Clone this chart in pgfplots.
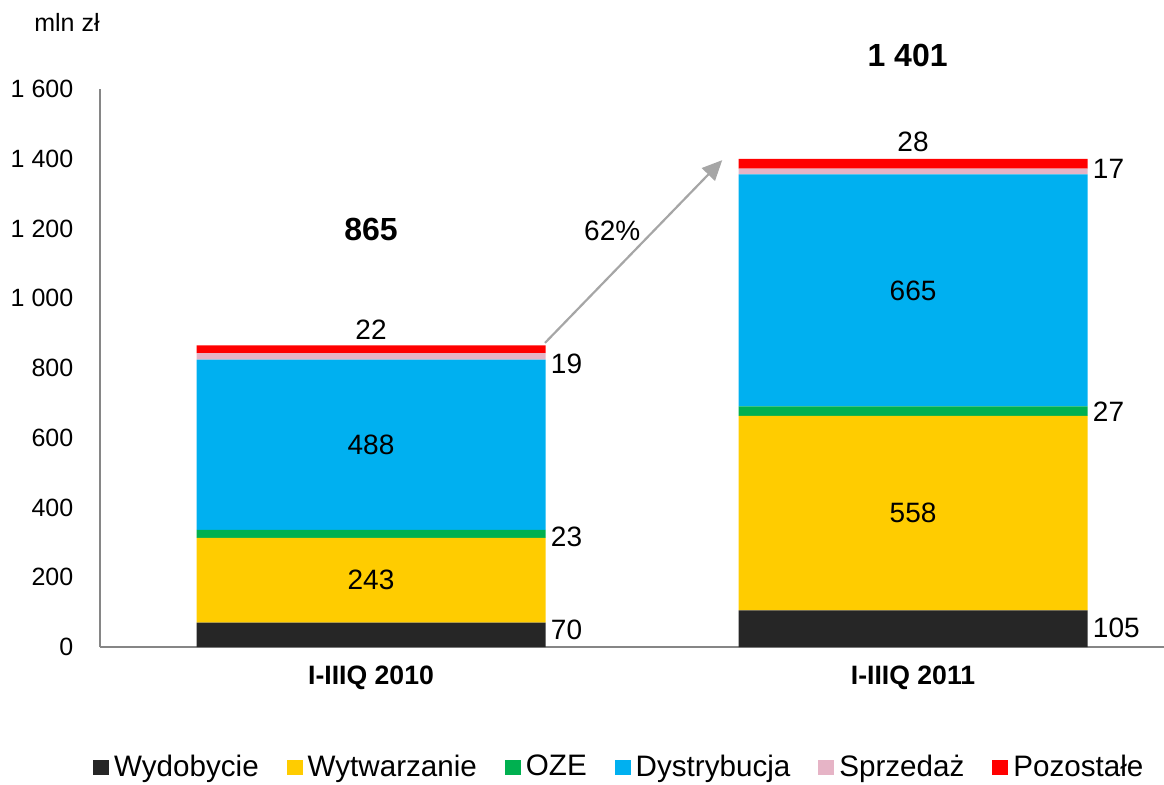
\documentclass[border=0pt]{standalone}
\usepackage{pgfplots}
\pgfplotsset{compat=1.18}
\usepackage{fontspec}
\setmainfont{Liberation Sans}
\usetikzlibrary{arrows.meta}
\definecolor{cWyd}{RGB}{38,38,38}
\definecolor{cWyt}{RGB}{255,204,0}
\definecolor{cOZE}{RGB}{0,176,80}
\definecolor{cDys}{RGB}{0,176,240}
\definecolor{cSpr}{RGB}{230,180,198}
\definecolor{cPoz}{RGB}{255,0,0}
\definecolor{axgray}{RGB}{134,134,134}
\definecolor{arrgray}{RGB}{166,166,166}
\begin{document}
\fontsize{14}{17}\selectfont
\begin{tikzpicture}
\useasboundingbox (-50pt,-68.5pt) rectangle (532pt,323.5pt);
\begin{axis}[
  at={(0pt,0pt)}, anchor=south west,
  scale only axis, width=532pt, height=279pt,
  ybar stacked, bar width=174.5pt,
  xmin=-0.5, xmax=1.463, ymin=0, ymax=1600,
  axis x line=bottom, axis y line=left,
  axis line style={draw=axgray, line width=1pt, -},
  major tick length=0pt,
  xtick={0,1}, xticklabels={I-IIIQ 2010, I-IIIQ 2011},
  xticklabel style={font=\fontsize{13.3}{16}\selectfont\bfseries, anchor=center, yshift=-15.5pt},
  ytick={0,200,400,600,800,1000,1200,1400,1600},
  yticklabels={0,200,400,600,800,1 000,1 200,1 400,1 600},
  yticklabel style={font=\fontsize{12.5}{15}\selectfont, anchor=east, xshift=-8.5pt},
  clip=false,
  legend columns=6,
  legend style={draw=none, fill=none, at={(axis description cs:0.4895,-0.216)}, anchor=center,
    font=\fontsize{14.8}{17}\selectfont,
    /tikz/every even column/.append style={column sep=11.5pt},
    nodes={inner sep=2.5pt}},
  legend image code/.code={\fill[#1] (0pt,-3.75pt) rectangle (8pt,3.75pt);},
]
\addplot[fill=cWyd, draw=none] coordinates {(0,70) (1,105)};
\addplot[fill=cWyt, draw=none] coordinates {(0,243) (1,558)};
\addplot[fill=cOZE, draw=none] coordinates {(0,23) (1,27)};
\addplot[fill=cDys, draw=none] coordinates {(0,488) (1,665)};
\addplot[fill=cSpr, draw=none] coordinates {(0,19) (1,17)};
\addplot[fill=cPoz, draw=none] coordinates {(0,22) (1,28)};
\legend{Wydobycie,Wytwarzanie,OZE,Dystrybucja,Sprzedaż,Pozostałe}

\coordinate (i1) at (axis cs:0,191.5);
\coordinate (i2) at (axis cs:0,580);
\coordinate (i3) at (axis cs:1,384);
\coordinate (i4) at (axis cs:1,1022);
\coordinate (r1) at (axis cs:0.322,49);
\coordinate (r2) at (axis cs:0.322,316);
\coordinate (r3) at (axis cs:0.322,813);
\coordinate (r4) at (axis cs:1.322,55);
\coordinate (r5) at (axis cs:1.322,675);
\coordinate (r6) at (axis cs:1.322,1371);
\coordinate (t1) at (axis cs:0,911);
\coordinate (t2) at (axis cs:1,1448);
\coordinate (s1) at (axis cs:0,1198);
\coordinate (s2) at (axis cs:0.99,1695);
\coordinate (a1) at (axis cs:0.321,872);
\coordinate (a2) at (axis cs:0.648,1396);
\coordinate (p1) at (axis cs:0.445,1193);
\coordinate (u1) at (axis description cs:-0.031,1.12);
\end{axis}
% inside labels
\node at (i1) {243};
\node at (i2) {488};
\node at (i3) {558};
\node at (i4) {665};
% right labels
\node[anchor=west, inner sep=2.5pt] at (r1) {70};
\node[anchor=west, inner sep=2.5pt] at (r2) {23};
\node[anchor=west, inner sep=2.5pt] at (r3) {19};
\node[anchor=west, inner sep=2.5pt] at (r4) {105};
\node[anchor=west, inner sep=2.5pt] at (r5) {27};
\node[anchor=west, inner sep=2.5pt] at (r6) {17};
% top labels
\node at (t1) {22};
\node at (t2) {28};
% totals
\node[font=\fontsize{16}{19}\selectfont\bfseries] at (s1) {865};
\node[font=\fontsize{16}{19}\selectfont\bfseries] at (s2) {1 401};
% growth arrow
\draw[arrgray, line width=1.1pt, -{Triangle[length=10pt,width=9pt]}] (a1) -- (a2);
\node at (p1) {62\%};
% unit
\node[font=\fontsize{12.5}{15}\selectfont] at (u1) {mln zł};
\end{tikzpicture}
\end{document}
